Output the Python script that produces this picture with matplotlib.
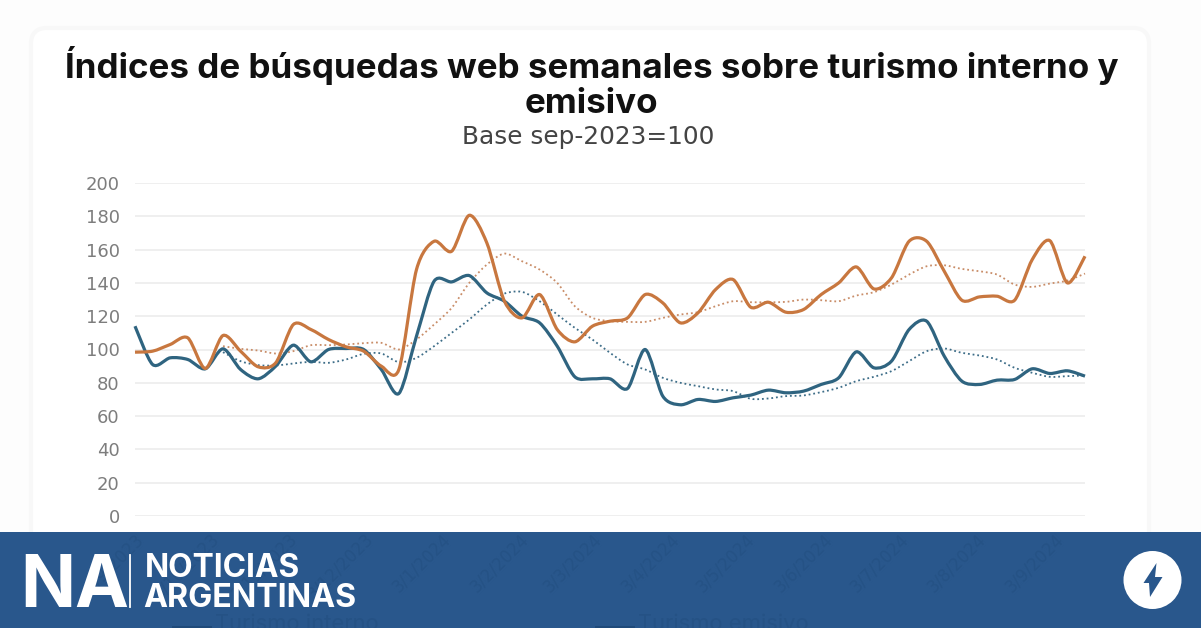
"""
Indices de busquedas web semanales, card + Noticias Argentinas banner.
"""
import matplotlib
import matplotlib.pyplot as plt
import matplotlib.dates as mdates
import pandas as pd
from matplotlib.patches import Circle, FancyBboxPatch, PathPatch, Polygon, Rectangle
from matplotlib.path import Path

matplotlib.use("Agg")

TITLE_LINES = ["Índices de búsquedas web semanales sobre turismo interno y", "emisivo"]
SUBTITLE = "Base sep-2023=100"
LEGEND_LABELS = ["Turismo interno", "Turismo emisivo"]

weeks = pd.date_range("2023-09-03", periods=55, freq="7D")
tick_dates = pd.date_range("2023-09-03", periods=13, freq=pd.DateOffset(months=1))
y_ticks = list(range(0, 201, 20))

interno = [114, 91, 95, 94, 88.4, 100.4, 88, 82.4, 90, 102.6, 92.6, 100, 100.6, 100, 88, 73.6,
           108, 141, 140.6, 144.4, 134, 129, 120, 116, 102, 83.6, 82.4, 82.4, 76.6, 100, 72,
           66.8, 70, 68.8, 71, 72.6, 75.6, 74, 75, 79, 83, 98.6, 89, 93, 112, 117, 96, 81, 79,
           81.6, 82, 88.4, 85.6, 87.2, 84]
emisivo = [98.4, 99, 103, 107, 88.6, 108.4, 99, 89.6, 92, 115, 112, 106, 101.6, 99, 90, 88,
           148, 165, 159, 180.6, 164, 129, 119, 133, 112, 104.6, 114, 117, 119, 133, 128, 116,
           122, 136, 142, 125.4, 128.4, 122.4, 124, 133, 140, 149.6, 136.4, 143, 165, 165, 147,
           129.6, 131.6, 132, 129.6, 154, 165.4, 140, 156]
# dotted trend lines only start at the sixth week
interno_trend = [98.4, 93, 90.6, 90.4, 91.6, 92.6, 92, 94, 97.4, 97.6, 92.4, 95, 102, 110, 118,
                 127, 133.6, 134.6, 129, 121, 113, 106, 98, 91, 88, 83, 80, 78, 76, 75, 70.4,
                 70.6, 72, 72.4, 74.4, 77, 81, 83.6, 87, 93, 99, 100.6, 98, 96.4, 94, 89, 86,
                 83.6, 84, 84.4]
emisivo_trend = [102, 100.4, 99.4, 97.6, 99, 102.6, 102.6, 103, 103.8, 104, 100, 106, 115, 125,
                 140, 151, 157.6, 153, 148, 140, 126, 119, 117, 116.6, 116.6, 119, 121, 122.4,
                 126, 129, 128.4, 128.4, 128.6, 130, 129.6, 129, 132.4, 134.4, 139, 145, 150,
                 150.6, 148.4, 147, 145, 139, 137.6, 139.6, 141.4, 145.6]

BLUE = "#2f6480"
ORANGE = "#c8773f"
BANNER = "#29578c"
GHOST = "#255285"
W, H = 1201, 628


def add_smooth_line(ax, dates, values, **style):
    """Draw the series as a spline through its points, like the source's smoothed lines."""
    xs = mdates.date2num(dates)
    verts = [(xs[0], values[0])]
    codes = [Path.MOVETO]
    last = len(xs) - 1
    for i in range(last):
        prev_i, next_i = max(i - 1, 0), min(i + 2, last)
        verts.append((xs[i] + (xs[i + 1] - xs[prev_i]) / 7, values[i] + (values[i + 1] - values[prev_i]) / 7))
        verts.append((xs[i + 1] - (xs[next_i] - xs[i]) / 7, values[i + 1] - (values[next_i] - values[i]) / 7))
        verts.append((xs[i + 1], values[i + 1]))
        codes += [Path.CURVE4] * 3
    ax.add_patch(PathPatch(Path(verts, codes), facecolor="none", clip_on=False, **style))


fig = plt.figure(figsize=(W / 100, H / 100), dpi=100, facecolor="#fdfdfd")

# card and banner sit behind the chart, the ghost axis labels show over the banner
back = fig.add_axes([0, 0, 1, 1], zorder=0)
back.set_xlim(0, W)
back.set_ylim(H, 0)
back.axis("off")
back.add_patch(FancyBboxPatch((31, 28), 1118, 640, boxstyle="round,pad=0,rounding_size=16",
                              facecolor="white", edgecolor="#f8f8f8", linewidth=3))
back.add_patch(Rectangle((0, 532), W, H - 532, facecolor=BANNER, edgecolor="none"))

back.text(591.5, 78, TITLE_LINES[0], ha="center", va="baseline", fontsize=25.2, fontweight="bold",
          family="Inter", color="#111111")
back.text(591.5, 113, TITLE_LINES[1], ha="center", va="baseline", fontsize=25.2, fontweight="bold",
          family="Inter", color="#111111")
back.text(588, 137, SUBTITLE, ha="center", va="center", fontsize=17.8, family="DejaVu Sans",
          color="#444444")

# legend got cut by the banner, only a dark trace remains
for x0, label in zip([172, 595], LEGEND_LABELS):
    back.add_patch(Rectangle((x0, 626), 40, 3, facecolor="#1f4a7a", edgecolor="none"))
    back.text(x0 + 43, 624, label, ha="left", va="center", fontsize=15.8, family="Inter",
              color=GHOST)

# chart
ax = fig.add_axes([135 / W, 1 - 516 / H, 950 / W, 333 / H], zorder=1)
ax.patch.set_alpha(0)
add_smooth_line(ax, weeks[5:], emisivo_trend, edgecolor="#c98d68", lw=1.3, ls=(0, (1, 1.6)))
add_smooth_line(ax, weeks[5:], interno_trend, edgecolor="#3d6d88", lw=1.3, ls=(0, (1, 1.6)))
add_smooth_line(ax, weeks, interno, edgecolor=BLUE, lw=2.3, joinstyle="round")
add_smooth_line(ax, weeks, emisivo, edgecolor=ORANGE, lw=2.3, joinstyle="round")

ax.set_xlim(weeks[0], weeks[-1])
ax.set_ylim(0, 200)
ax.set_yticks(y_ticks)
ax.set_xticks(tick_dates)
ax.xaxis.set_major_formatter(mdates.DateFormatter("3/%-m/%Y"))
for lab in ax.get_xticklabels():
    lab.set(rotation=45, ha="right", va="top", rotation_mode="anchor", color=GHOST,
            fontsize=12, family="DejaVu Sans")
for lab in ax.get_yticklabels():
    lab.set(color="#7d7d7d", fontsize=13, family="DejaVu Sans")
ax.tick_params(axis="both", length=0)
ax.tick_params(axis="y", pad=11)
ax.tick_params(axis="x", pad=10)
ax.grid(axis="y", color="#eeeeee", lw=1.3)
ax.set_axisbelow(True)
for s in ax.spines.values():
    s.set_visible(False)

# logo and amp badge on top of everything
front = fig.add_axes([0, 0, 1, 1], zorder=2)
front.set_xlim(0, W)
front.set_ylim(H, 0)
front.axis("off")
front.text(20, 607, "NA", ha="left", va="baseline", fontsize=52, fontweight="bold",
           family="Inter", color="white")
front.plot([130, 130], [555, 607], color="white", lw=1.3)
front.text(145, 577, "NOTICIAS", ha="left", va="baseline", fontsize=22.8, fontweight="bold",
           family="Inter", color="white")
front.text(143, 607, "ARGENTINAS", ha="left", va="baseline", fontsize=23.2, fontweight="bold",
           family="Inter", color="white")
front.add_patch(Circle((1152.5, 580), 29, facecolor="white", edgecolor="none"))
front.add_patch(Polygon([(1156.5, 563), (1143.5, 583), (1149, 583), (1150, 597), (1162.5, 577),
                         (1155, 577)], facecolor=BANNER, edgecolor="none"))

fig.savefig("out.png", dpi=100)
plt.close(fig)
